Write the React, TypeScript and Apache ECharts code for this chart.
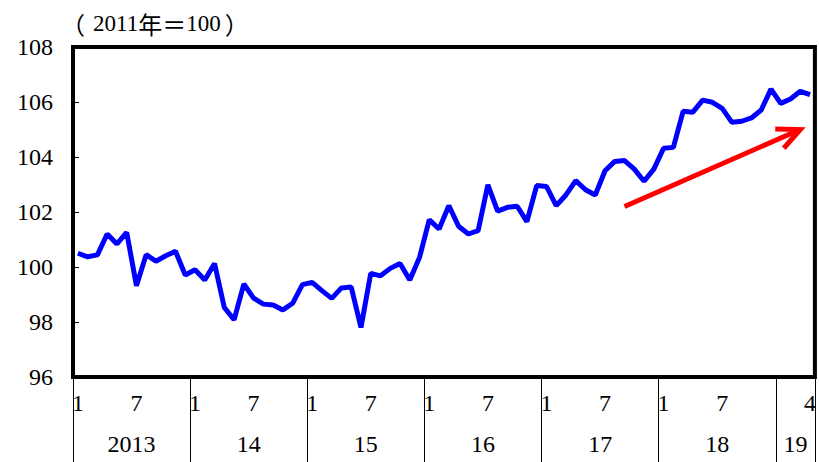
import React, { useEffect, useRef } from "react";
import * as echarts from "echarts";

const years: string[] = ["2013", "14", "15", "16", "17", "18", "19"];
const monthsPerYear: number[] = [12, 12, 12, 12, 12, 12, 4];
const monthTickLabels: Record<number, string> = { 1: "1", 7: "7" };
const lastMonthLabel = "4";

const values: number[] = [
  // 2013
  100.5, 100.37, 100.44, 101.2, 100.84, 101.26, 99.32, 100.45, 100.21, 100.41, 100.57, 99.71,
  // 2014
  99.9, 99.53, 100.13, 98.53, 98.08, 99.38, 98.87, 98.65, 98.62, 98.44, 98.68, 99.36,
  // 2015
  99.44, 99.14, 98.86, 99.24, 99.27, 97.8, 99.77, 99.68, 99.95, 100.13, 99.53, 100.35,
  // 2016
  101.72, 101.38, 102.23, 101.48, 101.2, 101.32, 102.99, 102.03, 102.17, 102.21, 101.65, 102.96,
  // 2017
  102.93, 102.23, 102.62, 103.14, 102.81, 102.62, 103.5, 103.84, 103.87, 103.56, 103.12, 103.56,
  // 2018
  104.32, 104.35, 105.66, 105.63, 106.07, 105.99, 105.77, 105.26, 105.3, 105.42, 105.71, 106.47,
  // 2019
  105.95, 106.11, 106.39, 106.27,
];

// arrow: [startIndex, startValue, endIndex, endValue]
const arrowData: number[][] = [[56, 102.2, 74, 105.0]];

const yMin = 96;
const yMax = 108;
const yInterval = 2;
const titleParts: string[][] = [
  ["open", "（"],
  ["num", "2011"],
  ["cjk", "年＝"],
  ["num", "100"],
  ["close", "）"],
];

const categories: string[] = [];
const monthOfCategory: number[] = [];
const fullYearOfCategory: boolean[] = [];
years.forEach((y, yi) => {
  for (let m = 1; m <= monthsPerYear[yi]; m++) {
    categories.push(`${y}-${m}`);
    monthOfCategory.push(m);
    fullYearOfCategory.push(monthsPerYear[yi] === 12);
  }
});
const yearStarts: number[] = [];
const yearCenters: number[] = [];
{
  let acc = 0;
  monthsPerYear.forEach((n) => {
    yearStarts.push(acc);
    yearCenters.push(acc + n / 2);
    acc += n;
  });
}

const SERIF = "Liberation Serif";
const CJK = "Noto Sans CJK JP";

export default function App() {
  const ref = useRef<HTMLDivElement>(null);
  useEffect(() => {
    if (!ref.current) return;
    const chart = echarts.init(ref.current, null, { renderer: "svg" });
    const total = categories.length;
    chart.setOption({
      animation: false,
      backgroundColor: "#ffffff",
      title: {
        text: titleParts.map(([k, t]) => `{${k}|${t}}`).join(""),
        left: 56,
        top: 6,
        textStyle: {
          fontSize: 23,
          fontWeight: "normal",
          color: "#000",
          rich: {
            open: { fontFamily: CJK, fontSize: 24, color: "#000", width: 32 },
            cjk: { fontFamily: CJK, fontSize: 24, color: "#000" },
            close: { fontFamily: CJK, fontSize: 24, color: "#000", padding: [0, 0, 0, 4] },
            num: { fontFamily: SERIF, fontSize: 23, color: "#000" },
          },
        },
      },
      grid: {
        left: 73,
        right: 1,
        top: 47,
        bottom: 85,
        show: true,
        borderColor: "#000",
        borderWidth: 4,
        backgroundColor: "transparent",
      },
      xAxis: [
        {
          type: "category",
          data: categories,
          boundaryGap: true,
          axisLine: { show: false },
          axisTick: {
            show: true,
            inside: false,
            length: 86,
            interval: (idx: number) => yearStarts.includes(idx),
            lineStyle: { color: "#000", width: 1 },
          },
          axisLabel: {
            interval: 0,
            margin: 14,
            fontFamily: SERIF,
            fontSize: 24,
            color: "#000",
            formatter: (_v: string, idx: number) => {
              if (idx === total - 1) return lastMonthLabel;
              if (!fullYearOfCategory[idx]) return "";
              return monthTickLabels[monthOfCategory[idx]] ?? "";
            },
          },
          splitLine: { show: false },
        },
        {
          type: "value",
          min: 0,
          max: total,
          position: "bottom",
          axisLine: { show: false },
          axisTick: { show: false },
          splitLine: { show: false },
          axisLabel: {
            customValues: yearCenters,
            margin: 55,
            fontFamily: SERIF,
            fontSize: 24,
            color: "#000",
            formatter: (v: number) => {
              const i = yearCenters.findIndex((c) => Math.abs(c - v) < 0.01);
              return i >= 0 ? years[i] : "";
            },
          },
        },
      ],
      yAxis: {
        type: "value",
        min: yMin,
        max: yMax,
        interval: yInterval,
        axisLine: { show: false },
        axisTick: { show: true, inside: true, length: 6, lineStyle: { color: "#000", width: 1 } },
        splitLine: { show: false },
        axisLabel: { margin: 20, fontFamily: SERIF, fontSize: 24, color: "#000" },
      },
      series: [
        {
          type: "line",
          data: values,
          xAxisIndex: 0,
          symbol: "none",
          lineStyle: { color: "#0000ff", width: 5 },
          z: 3,
        },
        {
          type: "custom",
          xAxisIndex: 0,
          data: arrowData,
          z: 4,
          renderItem: (_params: any, api: any) => {
            const p1 = api.coord([api.value(0), api.value(1)]);
            const p2 = api.coord([api.value(2), api.value(3)]);
            const ang = Math.atan2(p2[1] - p1[1], p2[0] - p1[0]);
            const len = 25;
            const spread = (25 * Math.PI) / 180;
            const h1 = [p2[0] - len * Math.cos(ang - spread), p2[1] - len * Math.sin(ang - spread)];
            const h2 = [p2[0] - len * Math.cos(ang + spread), p2[1] - len * Math.sin(ang + spread)];
            const style = { stroke: "#ff0000", lineWidth: 5, fill: "none" };
            return {
              type: "group",
              children: [
                { type: "line", shape: { x1: p1[0], y1: p1[1], x2: p2[0], y2: p2[1] }, style },
                { type: "polyline", shape: { points: [h1, p2, h2] }, style },
              ],
            };
          },
        },
      ],
    });
    return () => chart.dispose();
  }, []);
  return (
    <div
      ref={ref}
      style={{ position: "fixed", left: 0, top: 0, width: 819, height: 462, background: "#fff" }}
    />
  );
}
